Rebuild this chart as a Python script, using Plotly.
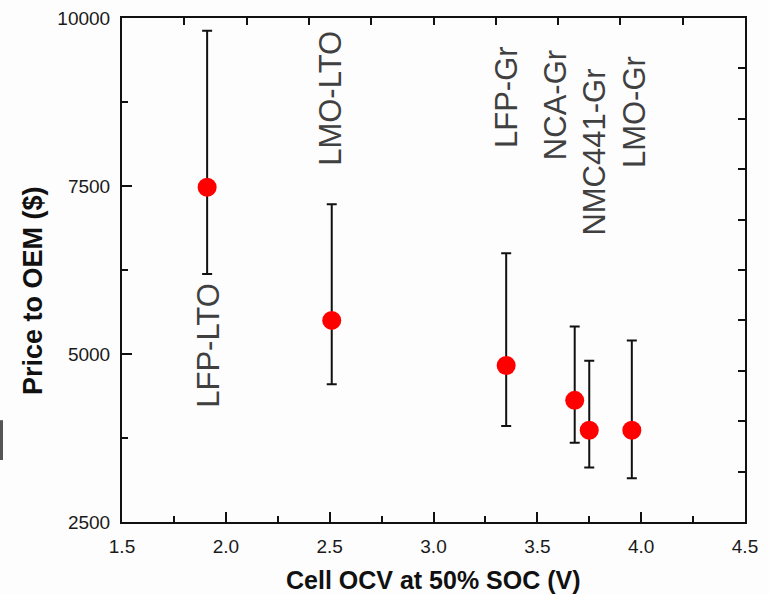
import plotly.graph_objects as go

# Cell chemistry, open-circuit voltage at 50% SOC and price to OEM
chemistries = ["LFP-LTO", "LMO-LTO", "LFP-Gr", "NCA-Gr", "NMC441-Gr", "LMO-Gr"]
ocv_v = [1.91, 2.51, 3.35, 3.68, 3.75, 3.955]
price_usd = [7480, 5500, 4830, 4310, 3865, 3865]
price_high = [9810, 7230, 6500, 5410, 4900, 5200]
price_low = [6190, 4550, 3930, 3680, 3310, 3150]

err_plus = [h - p for h, p in zip(price_high, price_usd)]
err_minus = [p - l for p, l in zip(price_usd, price_low)]

# where each rotated chemistry label sits (x in volts, y = bottom of text in paper units)
label_x = [1.915, 2.507, 3.349, 3.585, 3.777, 3.965]
label_y = [0.222, 0.702, 0.738, 0.714, 0.565, 0.698]

FONT = "Liberation Sans, Arial, sans-serif"

fig = go.Figure()
fig.add_trace(go.Scatter(
    x=ocv_v, y=price_usd, mode="markers",
    marker=dict(color="#ff0000", size=19, line=dict(width=0)),
    error_y=dict(type="data", symmetric=False, array=err_plus, arrayminus=err_minus,
                 color="#111111", thickness=2, width=5),
    showlegend=False, hoverinfo="x+y",
))

# invisible trace to activate the secondary (top/right) frame axes
fig.add_trace(go.Scatter(x=[0], y=[0], xaxis="x2", yaxis="y2", mode="markers",
                         marker=dict(opacity=0), showlegend=False, hoverinfo="skip"))

for name, lx, ly in zip(chemistries, label_x, label_y):
    fig.add_annotation(x=lx, y=ly, xref="x", yref="paper", text=name, textangle=-90,
                       showarrow=False, xanchor="center", yanchor="bottom",
                       font=dict(family=FONT, size=31, color="#404040"))

# axis titles placed explicitly in paper coordinates
fig.add_annotation(x=0.5, y=-0.115, xref="paper", yref="paper", yanchor="middle",
                   xanchor="center", showarrow=False,
                   text="<b>Cell OCV at 50% SOC (V)</b>",
                   font=dict(size=25, family=FONT, color="#111111"))
fig.add_annotation(x=-0.144, y=0.459, xref="paper", yref="paper", yanchor="middle",
                   xanchor="center", showarrow=False, textangle=-90,
                   text="<b>Price to OEM ($)</b>",
                   font=dict(size=27, family=FONT, color="#111111"))

axis_common = dict(showline=True, linecolor="#111111", linewidth=2, mirror=False,
                   showgrid=False, zeroline=False, ticks="inside", tickcolor="#111111",
                   tickwidth=2, automargin=False)

fig.update_layout(
    width=769, height=594,
    margin=dict(l=122, r=24, t=18, b=72, autoexpand=False),
    paper_bgcolor="#fdfdfd", plot_bgcolor="#fdfdfd",
    font=dict(family=FONT, color="#1a1a1a"),
    xaxis=dict(range=[1.5, 4.5], dtick=0.5, tick0=1.5, tickformat=".1f", ticklen=10,
               minor=dict(ticks="inside", dtick=0.25, ticklen=6, tickwidth=2, tickcolor="#111111"),
               tickfont=dict(size=19, family=FONT, color="#1a1a1a"),
               ticklabelstandoff=6, **axis_common),
    yaxis=dict(range=[2500, 10000], dtick=2500, tick0=2500, tickformat="d", ticklen=10,
               minor=dict(ticks="inside", dtick=1250, ticklen=6, tickwidth=2, tickcolor="#111111"),
               tickfont=dict(size=19, family=FONT, color="#1a1a1a"),
               ticklabelstandoff=6, **axis_common),
    xaxis2=dict(overlaying="x", side="top", range=[0, 10], dtick=1, ticklen=7,
                showticklabels=False, **axis_common),
    yaxis2=dict(overlaying="y", side="right", range=[0, 10], dtick=1, ticklen=7,
                showticklabels=False, **axis_common),
)

# small dark mark at the far left edge
fig.add_shape(type="line", xref="paper", yref="paper", x0=-0.1934, x1=-0.1934,
              y0=0.123, y1=0.202, line=dict(color="#555555", width=3))

fig.write_html("out.html")
